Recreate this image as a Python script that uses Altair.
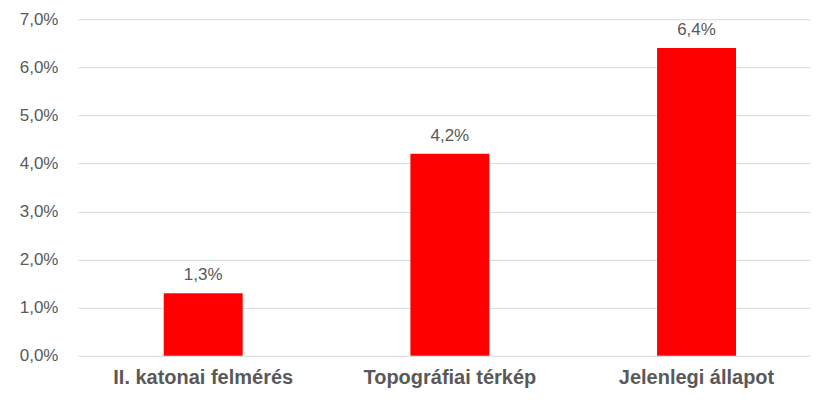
import altair as alt
import pandas as pd

categories = ["II. katonai felmérés", "Topográfiai térkép", "Jelenlegi állapot"]
values = [0.013, 0.042, 0.064]
y_ticks = [0, 0.01, 0.02, 0.03, 0.04, 0.05, 0.06, 0.07]

df = pd.DataFrame({"cat": categories, "val": values})

base = alt.Chart(df).transform_calculate(
    lbl="replace(format(datum.val, '.1%'), '.', ',')"
)

FONT = "Liberation Sans"

x_enc = alt.X(
    "cat:N",
    sort=categories,
    title=None,
    scale=alt.Scale(paddingInner=0.68, paddingOuter=0.324, align=0.537),
    axis=alt.Axis(labelAngle=0, labelFont=FONT, labelFontWeight="bold",
                  labelFontSize=20, labelColor="#595959", domain=False, ticks=False,
                  labelPadding=12, labelLimit=0),
)

bars = base.mark_bar(color="#FF0000").encode(
    x=x_enc,
    y=alt.Y("val:Q", title=None,
            scale=alt.Scale(domain=[0, 0.07], nice=False),
            axis=alt.Axis(values=y_ticks,
                          labelExpr="replace(format(datum.value, '.1%'), '.', ',')",
                          labelFont=FONT, labelFontSize=17, labelColor="#595959",
                          domain=False, ticks=False, labelPadding=20,
                          gridColor="#D9D9D9", gridWidth=1)),
)

text = base.mark_text(dy=-18, font=FONT, fontSize=17, color="#595959").encode(
    x=alt.X("cat:N", sort=categories),
    y="val:Q",
    text="lbl:N",
)

chart = (bars + text).properties(
    width=733, height=337,
    padding={"left": 11, "top": 2, "right": 0, "bottom": 0},
).configure_view(stroke=None)

chart.save("out.html", embed_options={"renderer": "svg", "actions": False})
